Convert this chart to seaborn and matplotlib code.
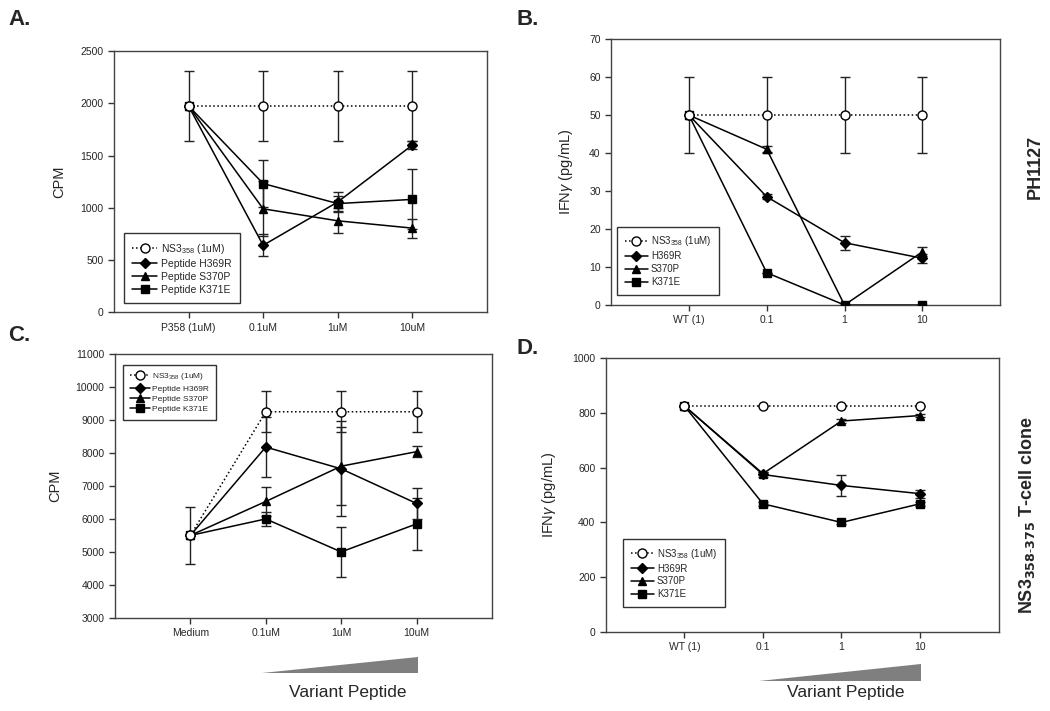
import numpy as np
import pandas as pd
import matplotlib.pyplot as plt
import seaborn as sns
from matplotlib.patches import Polygon

sns.set_style('ticks')
plt.rcParams['font.family'] = ['Liberation Sans', 'DejaVu Sans']
plt.rcParams['mathtext.fontset'] = 'custom'
plt.rcParams['mathtext.rm'] = 'Liberation Sans'
plt.rcParams['mathtext.it'] = 'Liberation Sans:italic'

# ---- data ----
series_names = ['NS3', 'H369R', 'S370P', 'K371E']

# A: CPM, PH1127
a_xlabels = ['P358 (1uM)', '0.1uM', '1uM', '10uM']
a_ns3 = [1975, 1975, 1975, 1975]
a_ns3_err = [340, 340, 340, 340]
a_h369r = [1975, 640, 1055, 1600]
a_h369r_err = [0, 105, 100, 40]
a_s370p = [1975, 990, 875, 805]
a_s370p_err = [0, 262, 118, 92]
a_k371e = [1975, 1232, 1040, 1080]
a_k371e_err = [0, 223, 75, 287]

# B: IFNg, PH1127
b_xlabels = ['WT (1)', '0.1', '1', '10']
b_ns3 = [50, 50, 50, 50]
b_ns3_err = [10, 10, 10, 10]
b_h369r = [50, 28.5, 16.4, 12.3]
b_h369r_err = [0, 0.6, 1.9, 1.2]
b_s370p = [50, 41, 0, 14]
b_s370p_err = [0, 0.8, 0, 1.2]
b_k371e = [50, 8.5, 0, 0]
b_k371e_err = [0, 0, 0, 0]

# C: CPM, T-cell clone
c_xlabels = ['Medium', '0.1uM', '1uM', '10uM']
c_ns3 = [5500, 9250, 9250, 9250]
c_ns3_err = [870, 620, 620, 620]
c_h369r = [5500, 8180, 7520, 6470]
c_h369r_err = [0, 910, 1440, 480]
c_s370p = [5500, 6530, 7600, 8040]
c_s370p_err = [0, 450, 1180, 170]
c_k371e = [5500, 6000, 5000, 5850]
c_k371e_err = [0, 220, 770, 790]

# D: IFNg, T-cell clone
d_xlabels = ['WT (1)', '0.1', '1', '10']
d_ns3 = [825, 825, 825, 825]
d_ns3_err = [0, 0, 0, 0]
d_h369r = [825, 575, 535, 505]
d_h369r_err = [0, 8, 38, 15]
d_s370p = [825, 578, 770, 790]
d_s370p_err = [0, 6, 8, 6]
d_k371e = [825, 468, 400, 468]
d_k371e_err = [0, 8, 6, 8]

markers = {'NS3': 'o', 'H369R': 'D', 'S370P': '^', 'K371E': 's'}
msizes = {'NS3': 6.5, 'H369R': 5.5, 'S370P': 6, 'K371E': 5.5}


def draw_panel(ax, xlabels, vals, errs, ylim, yticks, ylabel, leg_labels,
               leg_pos, leg_fs):
    x = np.arange(len(xlabels))
    handles = []
    for name in series_names:
        df = pd.DataFrame({'x': x, 'y': vals[name]})
        ns3 = name == 'NS3'
        ax.errorbar(x, vals[name], yerr=errs[name], fmt='none', ecolor='#222222',
                    elinewidth=1, capsize=3.5, capthick=1, zorder=2)
        sns.lineplot(data=df, x='x', y='y', ax=ax, color='black',
                     marker=markers[name], markersize=msizes[name],
                     linestyle=':' if ns3 else '-', linewidth=1.1,
                     markeredgecolor='black', markeredgewidth=1,
                     zorder=4 if ns3 else 3)
        ln = ax.lines[-1]
        ln.set_markerfacecolor('white' if ns3 else 'black')
        handles.append(ln)
    ax.set_xlim(-1, len(xlabels))
    ax.set_ylim(*ylim)
    ax.set_yticks(yticks)
    ax.set_xticks(x)
    ax.set_xticklabels(xlabels)
    ax.set_xlabel('')
    ax.set_ylabel(ylabel, fontsize=10.5, labelpad=10)
    ax.tick_params(labelsize=7.5, length=4, width=1, color='#333333', direction='out')
    for sp in ax.spines.values():
        sp.set_visible(True)
        sp.set_color('#444444')
        sp.set_linewidth(1)
    leg = ax.legend(handles, leg_labels, loc='lower left', bbox_to_anchor=leg_pos,
                    fontsize=leg_fs, frameon=True, fancybox=False, framealpha=1,
                    edgecolor='#333333', handlelength=2.4, labelspacing=0.3,
                    borderpad=0.8, handletextpad=0.3, borderaxespad=0)
    leg.get_frame().set_linewidth(1)


fig = plt.figure(figsize=(10.5, 7.11), dpi=100)
axA = fig.add_axes([0.1086, 0.561, 0.355, 0.367])
axB = fig.add_axes([0.582, 0.571, 0.3705, 0.374])
axC = fig.add_axes([0.1095, 0.131, 0.359, 0.371])
axD = fig.add_axes([0.577, 0.111, 0.374, 0.3855])

ns3_lab = 'NS3$_{358}$ (1uM)'
draw_panel(axA, a_xlabels,
           dict(zip(series_names, [a_ns3, a_h369r, a_s370p, a_k371e])),
           dict(zip(series_names, [a_ns3_err, a_h369r_err, a_s370p_err, a_k371e_err])),
           (0, 2500), np.arange(0, 2501, 500), 'CPM',
           [ns3_lab, 'Peptide H369R', 'Peptide S370P', 'Peptide K371E'],
           (0.027, 0.034), 7.5)
draw_panel(axB, b_xlabels,
           dict(zip(series_names, [b_ns3, b_h369r, b_s370p, b_k371e])),
           dict(zip(series_names, [b_ns3_err, b_h369r_err, b_s370p_err, b_k371e_err])),
           (0, 70), np.arange(0, 71, 10), 'IFN$\\gamma$ (pg/mL)',
           [ns3_lab, 'H369R', 'S370P', 'K371E'],
           (0.015, 0.038), 7)
draw_panel(axC, c_xlabels,
           dict(zip(series_names, [c_ns3, c_h369r, c_s370p, c_k371e])),
           dict(zip(series_names, [c_ns3_err, c_h369r_err, c_s370p_err, c_k371e_err])),
           (3000, 11000), np.arange(3000, 11001, 1000), 'CPM',
           [ns3_lab, 'Peptide H369R', 'Peptide S370P', 'Peptide K371E'],
           (0.021, 0.75), 6)
draw_panel(axD, d_xlabels,
           dict(zip(series_names, [d_ns3, d_h369r, d_s370p, d_k371e])),
           dict(zip(series_names, [d_ns3_err, d_h369r_err, d_s370p_err, d_k371e_err])),
           (0, 1000), np.arange(0, 1001, 200), 'IFN$\\gamma$ (pg/mL)',
           [ns3_lab, 'H369R', 'S370P', 'K371E'],
           (0.043, 0.091), 7)

# panel letters
for lab, xx, yy in [('A.', 0.008, 0.972), ('B.', 0.492, 0.972),
                    ('C.', 0.008, 0.528), ('D.', 0.492, 0.51)]:
    fig.text(xx, yy, lab, fontsize=16, fontweight='bold', va='center', ha='left')

# side labels
fig.text(0.986, 0.765, 'PH1127', rotation=90, fontsize=13, fontweight='bold',
         va='center', ha='center')
fig.text(0.978, 0.275, 'NS3$_{\\mathbf{358\\text{-}375}}$ T-cell clone', rotation=90,
         fontsize=13, fontweight='bold', va='center', ha='center')

# increasing-dose wedges
gray = '#7f7f7f'
fig.add_artist(Polygon([[262 / 1050, 1 - 673 / 711], [418 / 1050, 1 - 673 / 711],
                        [418 / 1050, 1 - 657 / 711]], closed=True,
                       transform=fig.transFigure, color=gray, lw=0))
fig.text(348 / 1050, 1 - 692 / 711, 'Variant Peptide', fontsize=12.5,
         ha='center', va='center')
fig.add_artist(Polygon([[759 / 1050, 1 - 681 / 711], [921 / 1050, 1 - 681 / 711],
                        [921 / 1050, 1 - 664 / 711]], closed=True,
                       transform=fig.transFigure, color=gray, lw=0))
fig.text(846 / 1050, 1 - 693 / 711, 'Variant Peptide', fontsize=12.5,
         ha='center', va='center')

fig.savefig('out.png', dpi=100)
